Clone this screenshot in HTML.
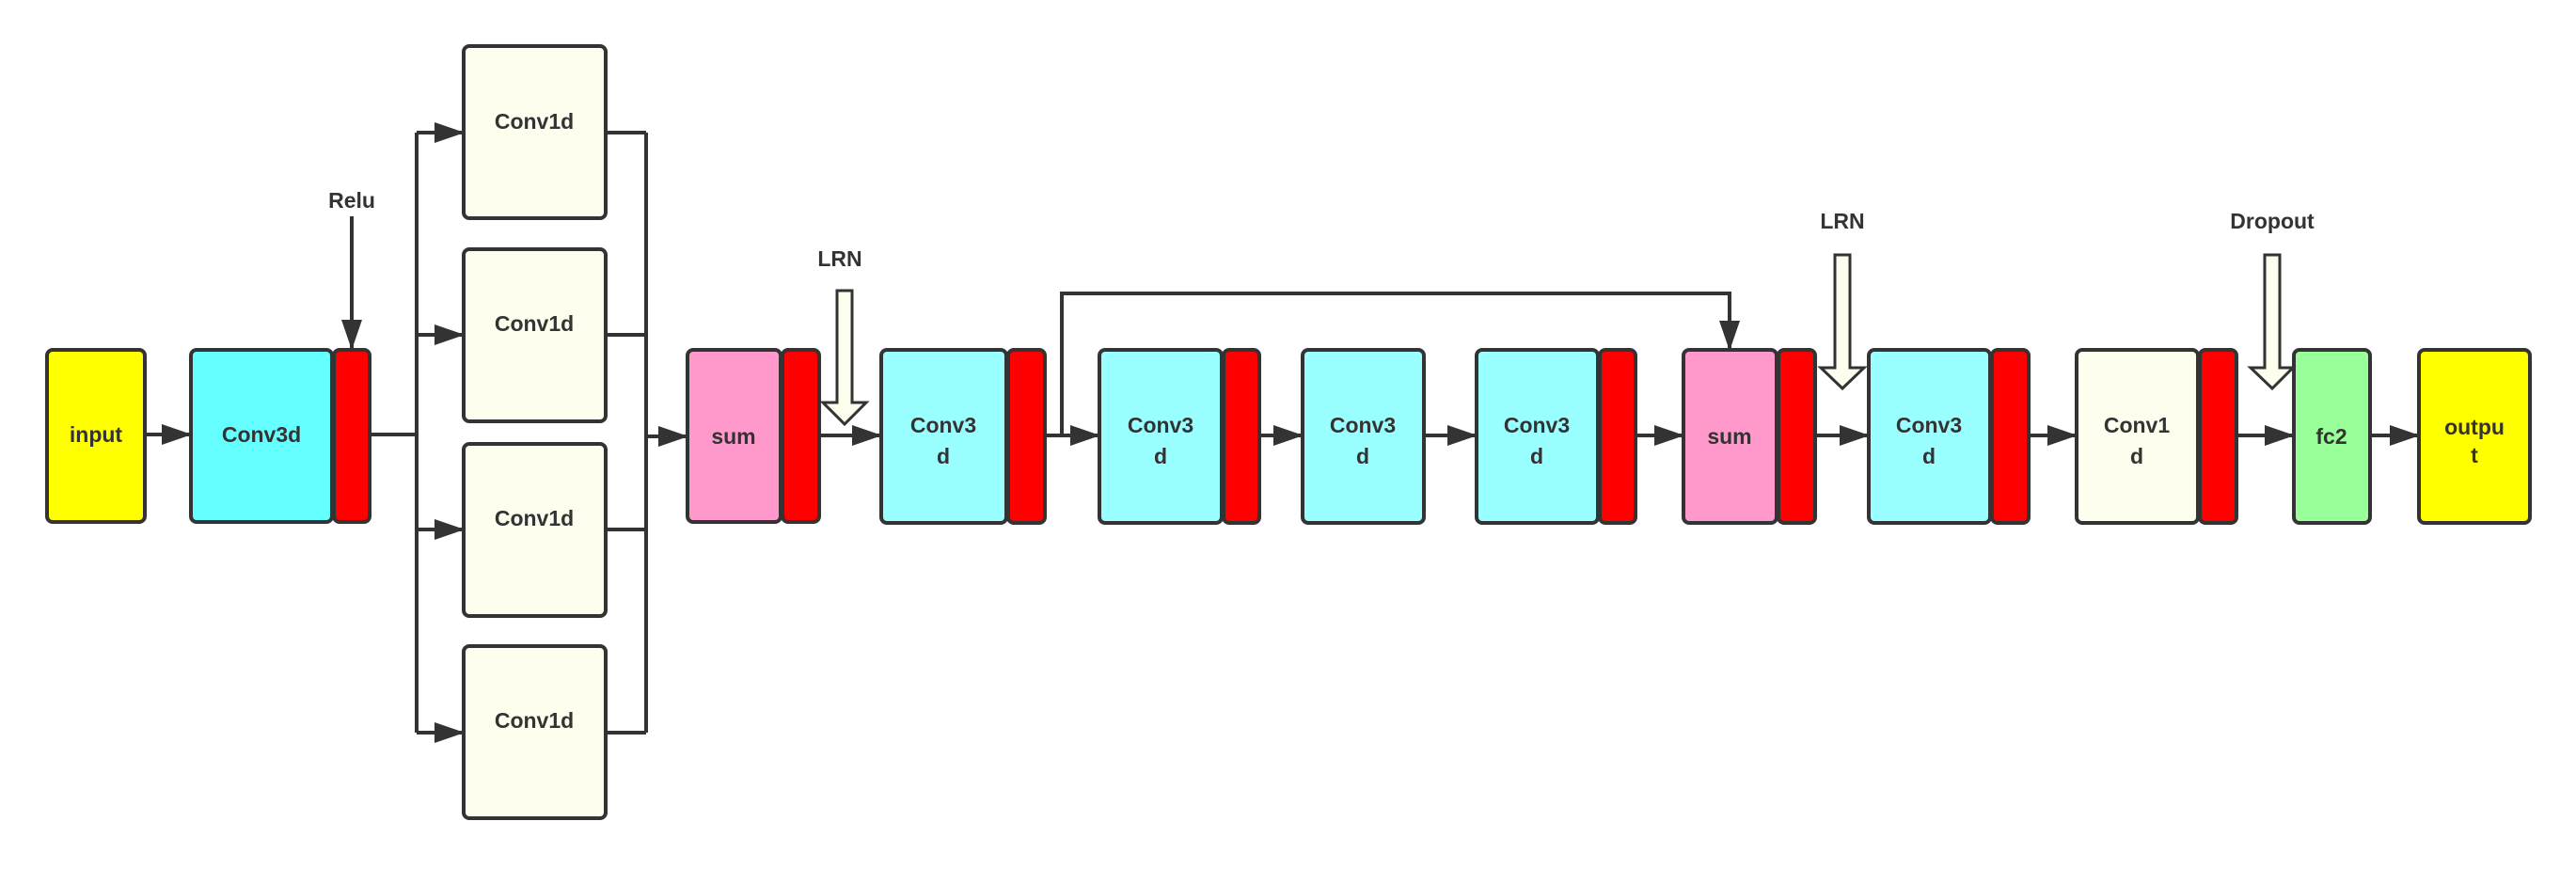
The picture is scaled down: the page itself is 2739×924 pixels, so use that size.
<!DOCTYPE html>
<html><head><meta charset="utf-8"><style>
html,body{margin:0;padding:0;background:#fff;}
svg{display:block;}
text{font-family:"Liberation Sans",Arial,sans-serif;font-weight:bold;fill:#333;}
</style></head><body>
<svg width="2739" height="924" viewBox="0 0 2739 924" xmlns="http://www.w3.org/2000/svg">
<defs>
<marker id="a" markerWidth="32" markerHeight="22" refX="31" refY="11" orient="auto" markerUnits="userSpaceOnUse">
<path d="M0,0 L32,11 L0,22 Z" fill="#333"/>
</marker>
</defs>
<g stroke="#333" stroke-width="4" fill="none">
<!-- connectors -->
<line x1="154" y1="462" x2="203" y2="462" marker-end="url(#a)"/>
<polyline points="393,462 443,462"/>
<line x1="443" y1="141" x2="443" y2="779"/>
<line x1="443" y1="141" x2="493" y2="141" marker-end="url(#a)"/>
<line x1="443" y1="356" x2="493" y2="356" marker-end="url(#a)"/>
<line x1="443" y1="563" x2="493" y2="563" marker-end="url(#a)"/>
<line x1="443" y1="779" x2="493" y2="779" marker-end="url(#a)"/>
<line x1="644" y1="141" x2="687" y2="141"/>
<line x1="644" y1="356" x2="687" y2="356"/>
<line x1="644" y1="563" x2="687" y2="563"/>
<line x1="644" y1="779" x2="687" y2="779"/>
<line x1="687" y1="141" x2="687" y2="779"/>
<line x1="687" y1="464" x2="731" y2="464" marker-end="url(#a)"/>
<line x1="374" y1="230" x2="374" y2="371" marker-end="url(#a)"/>
<line x1="871" y1="463" x2="937" y2="463" marker-end="url(#a)"/>
<line x1="1111" y1="463" x2="1169" y2="463" marker-end="url(#a)"/>
<polyline points="1129,463 1129,312 1839,312 1839,372" marker-end="url(#a)"/>
<line x1="1339" y1="463" x2="1385" y2="463" marker-end="url(#a)"/>
<line x1="1514" y1="463" x2="1570" y2="463" marker-end="url(#a)"/>
<line x1="1739" y1="463" x2="1790" y2="463" marker-end="url(#a)"/>
<line x1="1930" y1="463" x2="1987" y2="463" marker-end="url(#a)"/>
<line x1="2157" y1="463" x2="2208" y2="463" marker-end="url(#a)"/>
<line x1="2378" y1="463" x2="2439" y2="463" marker-end="url(#a)"/>
<line x1="2520" y1="463" x2="2572" y2="463" marker-end="url(#a)"/>
</g>
<g stroke="#333" stroke-width="4">
<!-- boxes -->
<rect x="50" y="372" width="104" height="183" rx="6" fill="#FFFF00"/>
<rect x="203" y="372" width="150" height="183" rx="6" fill="#66FFFF"/>
<rect x="355" y="372" width="38" height="183" rx="6" fill="#FF0000"/>
<rect x="493" y="49" width="151" height="183" rx="6" fill="#FEFEEE"/>
<rect x="493" y="265" width="151" height="183" rx="6" fill="#FEFEEE"/>
<rect x="493" y="472" width="151" height="183" rx="6" fill="#FEFEEE"/>
<rect x="493" y="687" width="151" height="183" rx="6" fill="#FEFEEE"/>
<rect x="731" y="372" width="99" height="183" rx="6" fill="#FF99CC"/>
<rect x="832" y="372" width="39" height="183" rx="6" fill="#FF0000"/>
<rect x="937" y="372" width="133" height="184" rx="6" fill="#99FFFF"/>
<rect x="1072" y="372" width="39" height="184" rx="6" fill="#FF0000"/>
<rect x="1169" y="372" width="130" height="184" rx="6" fill="#99FFFF"/>
<rect x="1301" y="372" width="38" height="184" rx="6" fill="#FF0000"/>
<rect x="1385" y="372" width="129" height="184" rx="6" fill="#99FFFF"/>
<rect x="1570" y="372" width="129" height="184" rx="6" fill="#99FFFF"/>
<rect x="1701" y="372" width="38" height="184" rx="6" fill="#FF0000"/>
<rect x="1790" y="372" width="99" height="184" rx="6" fill="#FF99CC"/>
<rect x="1891" y="372" width="39" height="184" rx="6" fill="#FF0000"/>
<rect x="1987" y="372" width="129" height="184" rx="6" fill="#99FFFF"/>
<rect x="2118" y="372" width="39" height="184" rx="6" fill="#FF0000"/>
<rect x="2208" y="372" width="129" height="184" rx="6" fill="#FEFEEE"/>
<rect x="2339" y="372" width="39" height="184" rx="6" fill="#FF0000"/>
<rect x="2439" y="372" width="81" height="184" rx="6" fill="#99FF99"/>
<rect x="2572" y="372" width="118" height="184" rx="6" fill="#FFFF00"/>
<!-- hollow arrows -->
<path d="M890,309 L906,309 L906,428 L921,428 L898,451 L875,428 L890,428 Z" fill="#FEFEEE" stroke-width="3"/>
<path d="M1951,271 L1967,271 L1967,391 L1982,391 L1959,413 L1936,391 L1951,391 Z" fill="#FEFEEE" stroke-width="3"/>
<path d="M2408,271 L2424,271 L2424,391 L2438,391 L2416,413 L2393,391 L2408,391 Z" fill="#FEFEEE" stroke-width="3"/>
</g>
<g font-size="23" text-anchor="middle">
<text x="102" y="470">input</text>
<text x="278" y="470">Conv3d</text>
<text x="568" y="137">Conv1d</text>
<text x="568" y="352">Conv1d</text>
<text x="568" y="559">Conv1d</text>
<text x="568" y="774">Conv1d</text>
<text x="780" y="472">sum</text>
<text x="1003" y="460">Conv3</text><text x="1003" y="493">d</text>
<text x="1234" y="460">Conv3</text><text x="1234" y="493">d</text>
<text x="1449" y="460">Conv3</text><text x="1449" y="493">d</text>
<text x="1634" y="460">Conv3</text><text x="1634" y="493">d</text>
<text x="1839" y="472">sum</text>
<text x="2051" y="460">Conv3</text><text x="2051" y="493">d</text>
<text x="2272" y="460">Conv1</text><text x="2272" y="493">d</text>
<text x="2479" y="472">fc2</text>
<text x="2631" y="462">outpu</text><text x="2631" y="492">t</text>
<text x="374" y="221">Relu</text>
<text x="893" y="283">LRN</text>
<text x="1959" y="243">LRN</text>
<text x="2416" y="243">Dropout</text>
</g>
</svg>
</body></html>
